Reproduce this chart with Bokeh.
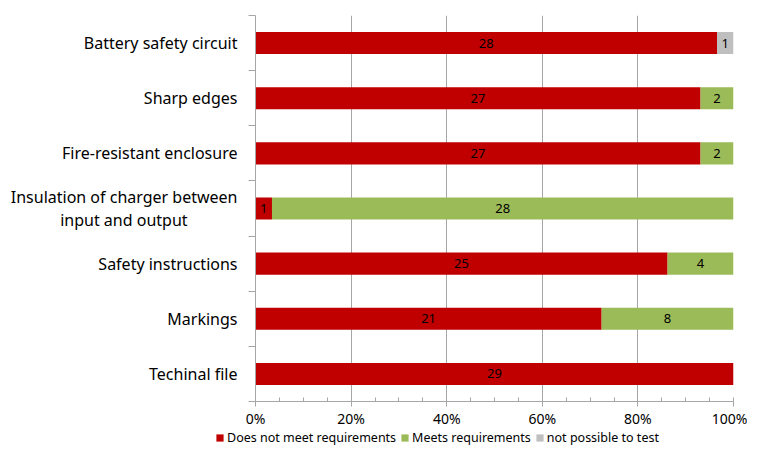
import numpy as np
from bokeh.plotting import figure
from bokeh.layouts import column, row
from bokeh.models import (ColumnDataSource, Range1d, FixedTicker, PrintfTickFormatter,
                          LabelSet, Legend, LegendItem)
from bokeh.core.properties import value
from bokeh.embed import file_html
from bokeh.resources import INLINE

# ---- data (top to bottom as in the chart) ----
categories = ["Battery safety circuit", "Sharp edges", "Fire-resistant enclosure",
              "Insulation of charger between\ninput and output", "Safety instructions",
              "Markings", "Techinal file"]
does_not_meet = [28, 27, 27, 1, 25, 21, 29]
meets = [0, 2, 2, 28, 4, 8, 0]
not_possible = [1, 0, 0, 0, 0, 0, 0]
series_names = ["Does not meet requirements", "Meets requirements", "not possible to test"]
x_ticks = [0, 20, 40, 60, 80, 100]

colors = ["#C00000", "#9BBB59", "#BFBFBF"]
FONT = "Noto Sans"

n = len(categories)
ypos = np.arange(n)[::-1] + 0.5
vals = np.array([does_not_meet, meets, not_possible], dtype=float)
totals = vals.sum(axis=0)
pct = vals / totals * 100.0
lefts = np.vstack([np.zeros(n), np.cumsum(pct, axis=0)[:-1]])
rights = lefts + pct

p = figure(width=747, height=430, output_backend="svg", toolbar_location=None,
           x_range=Range1d(0, 100), y_range=Range1d(0, n),
           min_border_left=255, min_border_right=14, min_border_top=15, min_border_bottom=29)
p.outline_line_color = None
p.background_fill_color = "white"
p.border_fill_color = "white"

sources = []
for i in range(3):
    src = ColumnDataSource(dict(y=ypos, left=lefts[i], right=rights[i],
                                mid=(lefts[i] + rights[i]) / 2,
                                val=vals[i], txt=[str(int(v)) if v > 0 else "" for v in vals[i]]))
    sources.append(src)
    p.hbar(y="y", left="left", right="right", height=0.4, source=src,
           fill_color=colors[i], line_color=None)
    labels = LabelSet(x="mid", y="y", text="txt", source=src, text_align="center",
                      text_baseline="middle", text_font_size=value("13px"), text_color="black",
                      text_font=value(FONT))
    p.add_layout(labels)

# x axis
p.xaxis.ticker = FixedTicker(ticks=x_ticks, minor_ticks=list(range(0, 101, 5)))
p.xaxis.formatter = PrintfTickFormatter(format="%d%%")
p.xaxis.axis_line_color = "#A6A6A6"
p.xaxis.major_tick_line_color = "#A6A6A6"
p.xaxis.minor_tick_line_color = "#A6A6A6"
p.xaxis.major_tick_out = 5
p.xaxis.major_tick_in = 0
p.xaxis.minor_tick_in = 4
p.xaxis.minor_tick_out = 0
p.xaxis.major_label_standoff = 2
p.xaxis.major_label_text_font = FONT
p.xaxis.major_label_text_font_size = "14px"
p.xaxis.major_label_text_color = "black"

# y axis (labels centred per line for the two-line category, as in the reference)
def label_text(c):
    lines = c.split("\n")
    if len(lines) == 1:
        return c
    return lines[0] + "\n" + lines[1] + "\u00a0" * 12

p.yaxis.ticker = FixedTicker(ticks=list(ypos), minor_ticks=list(range(0, n + 1)))
p.yaxis.major_label_overrides = {float(y): label_text(c) for y, c in zip(ypos, categories)}
p.yaxis.axis_line_color = "#A6A6A6"
p.yaxis.major_tick_out = 0
p.yaxis.major_tick_in = 0
p.yaxis.minor_tick_out = 7
p.yaxis.minor_tick_in = 0
p.yaxis.minor_tick_line_color = "#A6A6A6"
p.yaxis.major_label_standoff = 11
p.yaxis.major_label_text_font = FONT
p.yaxis.major_label_text_font_size = "16px"
p.yaxis.major_label_text_line_height = 1.05
p.yaxis.major_label_text_color = "black"

p.xgrid.ticker = FixedTicker(ticks=x_ticks)
p.xgrid.grid_line_color = "#A6A6A6"
p.ygrid.grid_line_color = None

# legend strip below the chart (hidden copies of the series, shown only as legend entries)
pl = figure(width=747, height=18, output_backend="svg", toolbar_location=None,
            x_range=Range1d(0, 100), y_range=Range1d(0, n),
            x_axis_location=None, y_axis_location=None, min_border=0)
pl.outline_line_color = None
pl.grid.visible = False
leg_renderers = [pl.hbar(y="y", left="left", right="right", height=0.4, source=src,
                         fill_color=c, line_color=None, visible=False)
                 for src, c in zip(sources, colors)]
legend = Legend(items=[LegendItem(label=s, renderers=[r]) for s, r in zip(series_names, leg_renderers)],
                orientation="horizontal", location=(215, 2),
                glyph_width=9, glyph_height=9, label_standoff=3, spacing=4,
                padding=0, margin=0, border_line_color=None, background_fill_alpha=0,
                inactive_fill_alpha=0,
                label_text_font=FONT, label_text_font_size="12.5px", label_height=14,
                label_text_color="black")
pl.add_layout(legend, "center")

layout = column(p, row(pl), spacing=0)
open("out.html", "w").write(file_html(layout, INLINE))
